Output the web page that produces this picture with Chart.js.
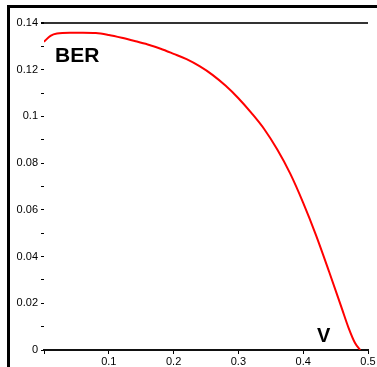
<!DOCTYPE html>
<html>
<head>
<meta charset="utf-8">
<script src="https://cdn.jsdelivr.net/npm/chart.js@4/dist/chart.umd.min.js"></script>
<style>
  html, body {margin: 0; padding: 0; background: #fff; overflow: hidden;}
  #frame {position: absolute; left: 7px; top: 5px; width: 370px; height: 362px;
          border-left: 3px solid #000; border-top: 3px solid #000;}
  #chart {display: block;}
</style>
</head>
<body>
<div id="frame"><canvas id="chart" width="367" height="359"></canvas></div>
<script>
// BER versus V
let v_values = [0, 0.01, 0.02, 0.04, 0.06, 0.08, 0.1, 0.12, 0.14, 0.16, 0.18, 0.2, 0.22, 0.24,
    0.26, 0.28, 0.3, 0.32, 0.34, 0.36, 0.38, 0.4, 0.42, 0.44, 0.46, 0.47, 0.48, 0.488]
let ber_values = [0.132, 0.1345, 0.1355, 0.1358, 0.1358, 0.1357, 0.1349, 0.1337, 0.1323, 0.1308,
    0.129, 0.1268, 0.1245, 0.1215, 0.1178, 0.1132, 0.1078, 0.1015, 0.0945, 0.0858, 0.0755, 0.063,
    0.049, 0.0335, 0.0175, 0.0095, 0.003, 0]
let x_ticks = [0, 0.1, 0.2, 0.3, 0.4, 0.5]
let y_max = 0.14

let points = v_values.map((v, i) => ({x: v, y: ber_values[i]}))

let label_plugin = {
    id: "labels",
    afterDraw(chart) {
        let ctx = chart.ctx
        let area = chart.chartArea
        ctx.save()
        ctx.fillStyle = "#000"
        ctx.textBaseline = "alphabetic"
        ctx.font = "bold 21px 'Liberation Sans', Arial, sans-serif"
        ctx.fillText("BER", area.left + 11, area.top + 39)
        ctx.font = "bold 20px 'Liberation Sans', Arial, sans-serif"
        ctx.fillText("V", area.left + 273, area.bottom - 8)
        ctx.restore()
    }
}

let tick_font = {family: "'Liberation Sans', Arial, sans-serif", size: 11}

new Chart("chart", {
    type: "line",
    data: {
        datasets: [{
            data: points, borderColor: "#ff0000", borderWidth: 2,
            pointRadius: 0, cubicInterpolationMode: "monotone", fill: false
        }]
    },
    options: {
        responsive: false,
        animation: {duration: 0},
        layout: {padding: {top: 15, right: 9, left: 0, bottom: 0}},
        plugins: {legend: {display: false}, tooltip: {enabled: false}},
        scales: {
            x: {
                type: "linear", min: 0, max: 0.5,
                afterBuildTicks: (scale) => { scale.ticks = x_ticks.map(v => ({value: v})) },
                afterFit: (scale) => { scale.height = 17 },
                border: {display: true, color: "#111", width: 2},
                grid: {drawOnChartArea: false, color: "#000", tickLength: 4},
                ticks: {
                    color: "#000", font: tick_font, padding: 1, maxRotation: 0,
                    callback: (v) => v === 0 ? "" : String(+v.toFixed(1))
                }
            },
            y: {
                type: "linear", min: 0, max: y_max,
                afterFit: (scale) => { scale.width = 34 },
                border: {display: false},
                grid: {
                    drawOnChartArea: true, tickLength: 3, tickColor: "#000",
                    color: (c) => Math.abs(c.tick.value - y_max) < 1e-6 ? "#333" : "rgba(0,0,0,0)",
                    lineWidth: (c) => Math.abs(c.tick.value - y_max) < 1e-6 ? 2 : 1
                },
                ticks: {
                    stepSize: 0.01, color: "#000", font: tick_font, padding: 3,
                    callback: (v) => Math.round(v * 100) % 2 === 0 ? String(+v.toFixed(2)) : ""
                }
            }
        }
    },
    plugins: [label_plugin]
})
</script>
</body>
</html>
